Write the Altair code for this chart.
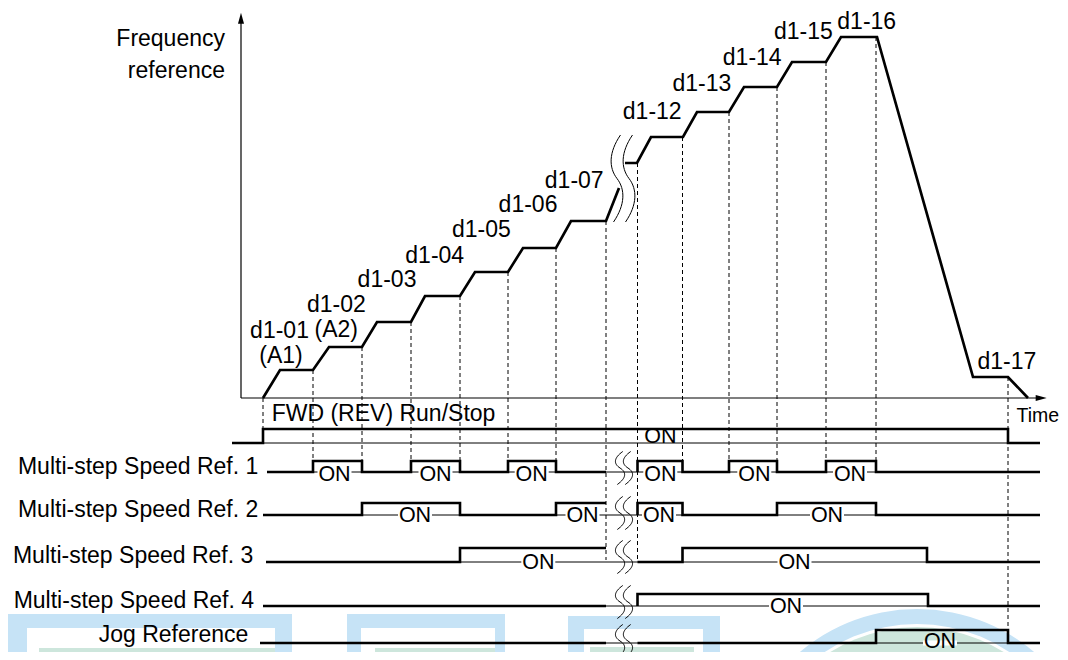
import altair as alt
import pandas as pd

# ---------------- values ----------------
# t: time units measured from the vertical (frequency) axis
# f: level units measured upward from the time axis
freq_segment = [1] * 16 + [2] * 15
freq_t = [22, 39, 72, 88, 121, 136, 170, 184, 219, 234, 267, 282, 315, 330, 365, 378,
          384, 396, 410, 442, 456, 488, 503, 536, 551, 585, 600, 636, 732, 767, 787]
freq_f = [0, 28, 28, 51, 51, 76, 76, 102, 102, 126, 126, 150, 150, 177, 177, 210,
          235, 235, 261, 261, 286, 286, 311, 311, 336, 336, 361, 361, 21, 21, 0]

step_labels = ["d1-01", "(A1)", "d1-02", "(A2)", "d1-03", "d1-04", "d1-05", "d1-06",
               "d1-07", "d1-12", "d1-13", "d1-14", "d1-15", "d1-16", "d1-17"]
step_label_t = [38.5, 40, 95.3, 95.3, 146, 193.7, 240.3, 287, 333.2,
                411.2, 460.8, 511.2, 562.3, 625.7, 765.8]
step_label_f = [60.3, 35.3, 85.7, 60.7, 110.7, 134.7, 160.7, 185.7, 209.7,
                278.7, 307.3, 333, 358.7, 369, 28.7]

axis_title = ["Frequency", "reference"]
axis_title_f = [352, 319.7]
time_title = "Time"

# dashed guides at the switching instants
guide_t = [22, 72, 121, 170, 219, 267, 315, 365, 396.5, 441.5, 488, 536, 585, 635, 767]
guide_top = [0, 28, 51, 76, 102, 126, 150, 177, 235, 261, 286, 311, 336, 361, 21]
guide_bottom = [-31, -63, -63, -63, -63, -63, -63, -162, -162, -63, -63, -63, -63, -63, -232]

# digital input rows
row_names = ["FWD (REV) Run/Stop", "Multi-step Speed Ref. 1", "Multi-step Speed Ref. 2",
             "Multi-step Speed Ref. 3", "Multi-step Speed Ref. 4", "Jog Reference"]
row_low = [-45, -74, -117, -164, -208, -245]
row_high = [-31, -63, -105, -150, -196, -232]
row_start = [-9, 26, 22, 25, 22, 19]
row_end = 799
break_from, break_to = 365, 396.5
row_edges_before = [[22, 767], [72, 121, 170, 219, 267, 315], [121, 219, 315], [219], [], []]
row_edges_after = [[], [396.5, 441.5, 488, 536, 585, 635], [396.5, 441.5, 536, 635],
                   [441.5, 686], [396.5, 687], [635, 767]]
row_label_t = [30.7, 17.3, 17.3, 12.3, 13, 7.3]
row_label_f = [-22.7, -76, -119.3, -164.7, -210.3, -244.3]

on_row = [0, 1, 1, 1, 1, 1, 1, 2, 2, 2, 2, 3, 3, 4, 5]
on_t = [419.3, 93.5, 194.5, 290.7, 419.3, 513.3, 609, 174, 341.5, 418, 586, 297.3, 553.5, 545, 699]
on_baseline = [-45, -83, -124, -171, -215, -250]

break_t = 382
freq_break_f = 219.5
row_break_f = [-70, -115, -159, -204, -243]

# faint watermark behind the lower rows
wm_box_t = [-234, -214, -202, 106, 120, 134, 327, 343, 349]
wm_box_t2 = [51, 34, 34, 264, 254, 254, 479, 462, 453]
wm_box_f = [-216, -230, -250, -216, -230, -250, -218, -231, -249]
wm_box_f2 = [-262, -262, -262, -262, -262, -262, -262, -262, -262]
wm_box_kind = ["blue", "white", "green"] * 3
wm_ring_t, wm_ring_f = 676, -392

# ---------------- styling ----------------
INK = "#000000"
BLUE = "#c6e3f6"
GREEN = "#cde6dc"
FONT = "Liberation Sans"
XS = alt.Scale(domain=[-233, 819], nice=False, zero=False)
YS = alt.Scale(domain=[-254, 390], nice=False, zero=False)


def xq(field):
    return alt.X(f"{field}:Q", scale=XS, axis=None)


def yq(field):
    return alt.Y(f"{field}:Q", scale=YS, axis=None)


def s_curve(cx, w):
    return (f"M{cx + 0.5 * w:.3f},-1 C{cx - 1.2 * w:.3f},-0.6 {cx - 1.2 * w:.3f},-0.25 {cx:.3f},0 "
            f"C{cx + 1.2 * w:.3f},0.25 {cx + 1.2 * w:.3f},0.6 {cx - 0.5 * w:.3f},1 ")


layers = []

# watermark
wm = pd.DataFrame({"t": wm_box_t, "t2": wm_box_t2, "f": wm_box_f, "f2": wm_box_f2,
                   "kind": wm_box_kind, "o": list(range(len(wm_box_t)))})
layers.append(
    alt.Chart(wm).mark_rect(clip=True).encode(
        x=xq("t"), x2="t2", y=yq("f"), y2="f2",
        color=alt.Color("kind:N", scale=alt.Scale(domain=["blue", "white", "green"],
                                                   range=[BLUE, "#ffffff", GREEN]), legend=None),
        order="o:Q")
)
ring = pd.DataFrame({"t": [wm_ring_t], "f": [wm_ring_f]})
layers.append(alt.Chart(ring).mark_arc(clip=True, radius=181, radius2=166, theta=0, theta2=6.2832,
                                       color=BLUE).encode(x=xq("t"), y=yq("f")))
layers.append(alt.Chart(ring).mark_arc(clip=True, radius=163, radius2=0, theta=0, theta2=6.2832,
                                       color=GREEN).encode(x=xq("t"), y=yq("f")))

# thin reference line of every row
thin = pd.DataFrame({"t": row_start, "t2": [row_end] * len(row_start), "f": row_low})
layers.append(alt.Chart(thin).mark_rule(strokeWidth=1, color=INK).encode(
    x=xq("t"), x2="t2", y=yq("f")))

# ON labels data
on_df = pd.DataFrame({"t": on_t, "row": on_row,
                      "f": [on_baseline[r] for r in on_row],
                      "low": [row_low[r] for r in on_row],
                      "label": ["ON"] * len(on_t)})
mask_df = on_df[on_df["row"] > 0]
layers.append(
    alt.Chart(mask_df).transform_calculate(
        a="datum.t - 17", b="datum.t + 17", lo="datum.low - 2.5", hi="datum.low + 2.5"
    ).mark_rect(color="#ffffff").encode(x=xq("a"), x2="b", y=yq("lo"), y2="hi")
)

# thick signal traces
pts = []
for i in range(len(row_names)):
    if i == 0:
        segs = [(row_start[i], row_end, row_edges_before[i])]
    else:
        segs = [(row_start[i], break_from, row_edges_before[i]),
                (break_to, row_end, row_edges_after[i])]
    for s, (a, b, edges) in enumerate(segs):
        state = 0
        lv = [row_low[i], row_high[i]]
        seq = [(a, lv[0])]
        for e in edges:
            seq.append((e, lv[state]))
            state ^= 1
            seq.append((e, lv[state]))
        seq.append((b, lv[state]))
        for j, (t, f) in enumerate(seq):
            pts.append({"key": f"{i}-{s}", "t": t, "f": f, "o": j})
sig = pd.DataFrame(pts)
layers.append(alt.Chart(sig).mark_line(strokeWidth=2.6, color=INK, strokeJoin="miter").encode(
    x=xq("t"), y=yq("f"), detail="key:N", order="o:Q"))

# dashed guides
guides = pd.DataFrame({"t": guide_t, "top": guide_top, "bottom": guide_bottom})
layers.append(alt.Chart(guides).mark_rule(strokeWidth=1, strokeDash=[4, 3], color=INK).encode(
    x=xq("t"), y=yq("top"), y2="bottom"))

# frequency reference profile
freq = pd.DataFrame({"t": freq_t, "f": freq_f, "seg": freq_segment, "o": list(range(len(freq_t)))})
layers.append(alt.Chart(freq).mark_line(strokeWidth=2.7, color=INK, strokeJoin="miter").encode(
    x=xq("t"), y=yq("f"), detail="seg:N", order="o:Q"))

# break symbols
big_break = s_curve(-0.138, 0.16) + s_curve(0.138, 0.16)
small_break = s_curve(-0.24, 0.33) + s_curve(0.24, 0.33)
layers.append(alt.Chart(pd.DataFrame({"t": [break_t], "f": [freq_break_f]})).mark_point(
    shape=big_break, size=7569, filled=False, strokeWidth=1, color=INK, opacity=1
).encode(x=xq("t"), y=yq("f")))
layers.append(alt.Chart(pd.DataFrame({"t": [break_t + 1] * 5, "f": row_break_f})).mark_point(
    shape=small_break, size=1089, filled=False, strokeWidth=1, color=INK, opacity=1
).encode(x=xq("t"), y=yq("f")))

# axes with arrowheads
axes = pd.DataFrame({"t": [0, 0], "t2": [800, 0], "f": [0, 0], "f2": [0, 380]})
layers.append(alt.Chart(axes).mark_rule(strokeWidth=1.2, color=INK).encode(
    x=xq("t"), x2="t2", y=yq("f"), y2="f2"))
layers.append(alt.Chart(pd.DataFrame({"t": [0], "f": [379.8]})).mark_point(
    shape="M0,-1L0.55,1L-0.55,1Z", size=121, filled=True, color=INK, opacity=1
).encode(x=xq("t"), y=yq("f")))
layers.append(alt.Chart(pd.DataFrame({"t": [800.2], "f": [0]})).mark_point(
    shape="M1,0L-1,-0.55L-1,0.55Z", size=121, filled=True, color=INK, opacity=1
).encode(x=xq("t"), y=yq("f")))

# texts
steps = pd.DataFrame({"label": step_labels, "t": step_label_t, "f": step_label_f})
layers.append(alt.Chart(steps).mark_text(font=FONT, fontSize=23, align="center",
                                         baseline="alphabetic", color=INK).encode(
    x=xq("t"), y=yq("f"), text="label:N"))
layers.append(alt.Chart(on_df).mark_text(font=FONT, fontSize=21.5, align="center",
                                         baseline="alphabetic", color=INK).encode(
    x=xq("t"), y=yq("f"), text="label:N"))
rows_right = pd.DataFrame({"label": row_names[1:], "t": row_label_t[1:], "f": row_label_f[1:]})
layers.append(alt.Chart(rows_right).mark_text(font=FONT, fontSize=23, align="right",
                                              baseline="alphabetic", color=INK).encode(
    x=xq("t"), y=yq("f"), text="label:N"))
title_df = pd.DataFrame({"label": axis_title, "t": [-16, -16], "f": axis_title_f})
layers.append(alt.Chart(title_df).mark_text(font=FONT, fontSize=23, align="right",
                                            baseline="alphabetic", color=INK).encode(
    x=xq("t"), y=yq("f"), text="label:N"))
left_df = pd.DataFrame({"label": [row_names[0]], "t": [row_label_t[0]], "f": [row_label_f[0]]})
layers.append(alt.Chart(left_df).mark_text(font=FONT, fontSize=23, align="left",
                                           baseline="alphabetic", color=INK).encode(
    x=xq("t"), y=yq("f"), text="label:N"))
time_df = pd.DataFrame({"label": [time_title], "t": [775.5], "f": [-23.7]})
layers.append(alt.Chart(time_df).mark_text(font=FONT, fontSize=19.5, align="left",
                                           baseline="alphabetic", color=INK).encode(
    x=xq("t"), y=yq("f"), text="label:N"))

chart = alt.layer(*layers).properties(
    width=1052, height=644, padding=0, background="#ffffff",
    autosize=alt.AutoSizeParams(type="none"),
).configure_view(stroke=None)

chart.save("out.html", embed_options={"renderer": "svg", "actions": False})
